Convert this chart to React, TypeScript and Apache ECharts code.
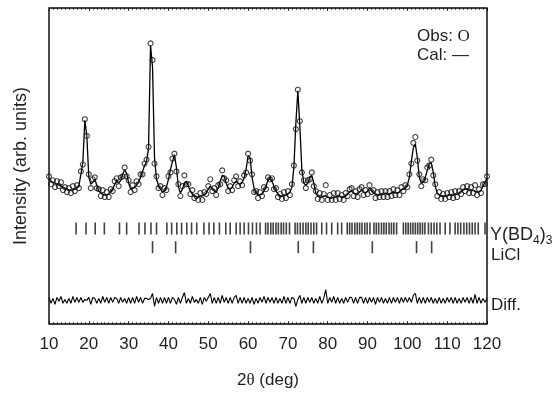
import { useEffect, useRef } from "react";
import * as echarts from "echarts";

// 2θ sampling grid (deg)
const TWO_THETA_START = 10;
const TWO_THETA_STEP = 0.5;

// Calculated profile (arb. units), 10.0° .. 120.0° every 0.5°
const calcIntensity = [
  147, 145, 144, 143, 142, 141, 140, 139, 138, 137,
  136, 136, 136, 137, 138, 140, 152, 164, 207, 191,
  149, 142, 144, 147, 141, 135, 133, 132, 131, 131,
  132, 134, 137, 142, 146, 143, 146, 152, 157, 153,
  143, 137, 138, 139, 141, 144, 149, 155, 161, 165,
  179, 283, 261, 169, 147, 141, 137, 134, 135, 139,
  147, 157, 165, 172, 159, 139, 133, 137, 143, 145,
  140, 135, 132, 130, 129, 129, 130, 130, 131, 133,
  137, 140, 138, 135, 134, 138, 145, 151, 150, 143,
  138, 137, 139, 143, 145, 143, 142, 144, 148, 157,
  171, 169, 149, 138, 133, 131, 131, 132, 135, 140,
  146, 149, 145, 140, 135, 132, 130, 130, 130, 131,
  132, 134, 139, 159, 204, 237, 201, 157, 143, 141,
  143, 149, 151, 143, 133, 130, 129, 129, 130, 130,
  129, 128, 128, 129, 129, 130, 130, 129, 129, 130,
  132, 134, 135, 133, 132, 132, 134, 136, 134, 133,
  135, 138, 136, 133, 132, 131, 131, 132, 132, 133,
  132, 132, 133, 134, 133, 133, 134, 136, 137, 138,
  141, 149, 165, 179, 183, 169, 149, 143, 144, 149,
  156, 163, 164, 154, 140, 133, 131, 130, 130, 130,
  130, 131, 131, 131, 132, 132, 133, 135, 136, 137,
  137, 136, 136, 136, 135, 134, 134, 136, 140, 144,
  148,
];

// Observed profile (arb. units), same grid
const obsIntensity = [
  150, 142, 146, 139, 145, 140, 144, 136, 139, 134,
  138, 133, 140, 135, 141, 138, 155, 162, 208, 191,
  152, 138, 147, 149, 138, 137, 130, 136, 129, 134,
  129, 137, 135, 145, 148, 140, 149, 150, 159, 150,
  146, 134, 141, 136, 145, 142, 152, 152, 163, 167,
  180, 285, 268, 163, 150, 138, 140, 131, 138, 136,
  150, 154, 168, 173, 155, 142, 130, 140, 151, 142,
  142, 132, 136, 128, 130, 126, 133, 126, 134, 132,
  140, 147, 135, 138, 131, 141, 142, 156, 148, 146,
  135, 140, 136, 146, 150, 140, 145, 141, 151, 154,
  173, 166, 152, 134, 135, 128, 134, 130, 139, 137,
  149, 147, 148, 137, 138, 129, 132, 127, 134, 128,
  135, 131, 142, 161, 198, 238, 206, 154, 146, 138,
  146, 147, 154, 140, 135, 127, 133, 126, 132, 141,
  126, 131, 126, 133, 126, 133, 127, 131, 126, 133,
  130, 137, 138, 130, 135, 129, 137, 139, 131, 136,
  132, 141, 134, 136, 128, 134, 129, 135, 129, 135,
  129, 135, 130, 137, 131, 136, 131, 139, 135, 141,
  139, 152, 163, 184, 190, 166, 152, 140, 147, 146,
  159, 161, 167, 151, 142, 130, 134, 127, 132, 127,
  133, 129, 134, 128, 135, 129, 135, 132, 139, 135,
  140, 133, 139, 133, 141, 131, 137, 133, 142, 142,
  150,
];

// Bragg reflection positions (2θ, deg)
const yBD4Reflections = [
  16.8, 19.3, 21.6, 23.9, 27.7, 29.5, 32.6, 34.1, 35.6, 37.0,
  39.6, 40.8, 42.1, 43.3, 44.6, 45.8, 47.1, 48.9, 50.2, 51.4,
  52.8, 54.4, 55.5, 57.0, 58.0, 59.0, 60.1, 61.1, 62.1, 63.0,
  64.4, 65.0, 65.7, 66.3, 67.0, 67.6, 68.3, 68.9, 69.6, 70.4,
  71.8, 72.4, 73.1, 73.8, 74.5, 75.1, 75.8, 76.5, 77.2,
  78.5, 79.7, 81.0, 82.5, 83.5,
  84.9, 85.5, 86.1, 86.8, 87.4, 88.0, 88.6, 89.3, 89.9, 90.6,
  91.6, 92.2, 92.8, 93.5, 94.1, 94.7, 95.4, 96.0, 96.6, 97.3,
  99.0, 99.6, 100.2, 100.8, 101.4, 102.0, 102.6, 103.2, 103.8, 104.4,
  105.3, 106.0, 106.7, 107.4, 108.2, 109.5, 110.7,
  112.0, 112.7, 113.4, 114.2, 114.9, 115.6, 116.3, 117.0, 117.8, 119.5,
];
const liclReflections = [36.0, 41.8, 60.6, 72.6, 76.4, 91.2, 102.3, 106.1];

const xTickValues = [10, 20, 30, 40, 50, 60, 70, 80, 90, 100, 110, 120];

const FONT = "'Liberation Sans', Arial, sans-serif";
const INK = "#231f20";

export default function App() {
  const ref = useRef<HTMLDivElement>(null);

  useEffect(() => {
    if (!ref.current) return;
    const chart = echarts.init(ref.current, null, { renderer: "svg" });

    const angles = calcIntensity.map((_, i) => TWO_THETA_START + TWO_THETA_STEP * i);
    const DIFF_BASE = 24;
    const Y_ROW = 97;
    const LICL_ROW = 78;

    const calcData = angles.map((a, i) => [a, calcIntensity[i]]);
    const obsData = angles.map((a, i) => [a, obsIntensity[i]]);
    const diffData = angles.map((a, i) => [a, DIFF_BASE + obsIntensity[i] - calcIntensity[i]]);

    const xMin = xTickValues[0];
    const xMax = xTickValues[xTickValues.length - 1];
    const xInterval = xTickValues[1] - xTickValues[0];

    chart.setOption({
      animation: false,
      grid: {
        left: 49,
        right: 68,
        top: 8,
        bottom: 64,
        show: true,
        borderColor: "#000",
        borderWidth: 1.4,
        backgroundColor: "transparent",
      },
      xAxis: [
        {
          type: "value",
          position: "bottom",
          min: xMin,
          max: xMax,
          interval: xInterval,
          axisLine: { show: false },
          axisTick: { show: true, inside: true, length: 3, lineStyle: { color: "#000", width: 0.8 } },
          minorTick: { show: true, splitNumber: 10, length: 2, lineStyle: { color: "#000", width: 0.6 } },
          splitLine: { show: false },
          minorSplitLine: { show: false },
          axisLabel: { fontSize: 17, color: INK, margin: 11, fontFamily: FONT },
          name: "2{t|θ} (deg)",
          nameLocation: "middle",
          nameGap: 47,
          nameTextStyle: {
            fontSize: 17,
            color: INK,
            fontFamily: FONT,
            rich: { t: { fontSize: 17, fontFamily: "'Liberation Serif', serif", color: INK } },
          },
        },
        {
          type: "value",
          position: "top",
          min: xMin,
          max: xMax,
          interval: xInterval,
          axisLine: { show: false },
          axisTick: { show: true, inside: true, length: 3, lineStyle: { color: "#000", width: 0.8 } },
          minorTick: { show: true, splitNumber: 10, length: 2, lineStyle: { color: "#000", width: 0.6 } },
          splitLine: { show: false },
          axisLabel: { show: false },
        },
      ],
      yAxis: {
        type: "value",
        min: 0,
        max: 321,
        axisLine: { show: false },
        axisTick: { show: false },
        axisLabel: { show: false },
        splitLine: { show: false },
        name: "Intensity (arb. units)",
        nameLocation: "middle",
        nameGap: 20,
        nameTextStyle: { fontSize: 18, color: INK, fontFamily: FONT },
      },
      series: [
        {
          type: "line",
          data: calcData,
          showSymbol: false,
          lineStyle: { color: "#000", width: 1.3 },
          z: 2,
          silent: true,
        },
        {
          type: "scatter",
          data: obsData,
          symbol: "circle",
          symbolSize: 5,
          itemStyle: { color: "rgba(0,0,0,0)", borderColor: "#111", borderWidth: 1.1 },
          z: 3,
          silent: true,
        },
        {
          type: "line",
          data: diffData,
          showSymbol: false,
          lineStyle: { color: "#000", width: 1.1 },
          silent: true,
        },
        {
          type: "scatter",
          data: yBD4Reflections.map((p) => [p, Y_ROW]),
          symbol: "rect",
          symbolSize: [1.6, 12],
          itemStyle: { color: "#111" },
          silent: true,
        },
        {
          type: "scatter",
          data: liclReflections.map((p) => [p, LICL_ROW]),
          symbol: "rect",
          symbolSize: [1.6, 12],
          itemStyle: { color: "#111" },
          silent: true,
        },
      ],
      graphic: [
        {
          type: "text",
          x: 417,
          y: 35,
          style: {
            text: "Obs: {o|O}",
            fontSize: 17,
            fontFamily: FONT,
            fill: INK,
            verticalAlign: "middle",
            rich: { o: { fontSize: 17, fontFamily: "'Liberation Serif', serif", fill: INK } },
          },
        },
        {
          type: "text",
          x: 417,
          y: 54,
          style: { text: "Cal: —", fontSize: 17, fontFamily: FONT, fill: INK, verticalAlign: "middle" },
        },
        {
          type: "text",
          x: 490,
          y: 234,
          style: {
            text: "Y(BD{s|4}){s|3}",
            fontSize: 18,
            fontFamily: FONT,
            fill: INK,
            verticalAlign: "middle",
            rich: { s: { fontSize: 12, fontFamily: FONT, fill: INK, padding: [12, 0, 0, 0] } },
          },
        },
        {
          type: "text",
          x: 491,
          y: 254,
          style: { text: "LiCl", fontSize: 17, fontFamily: FONT, fill: INK, verticalAlign: "middle" },
        },
        {
          type: "text",
          x: 491,
          y: 304,
          style: { text: "Diff.", fontSize: 17, fontFamily: FONT, fill: INK, verticalAlign: "middle" },
        },
      ],
    });

    return () => chart.dispose();
  }, []);

  return (
    <div
      ref={ref}
      style={{ position: "fixed", left: 0, top: 0, width: 555, height: 393 }}
    />
  );
}
